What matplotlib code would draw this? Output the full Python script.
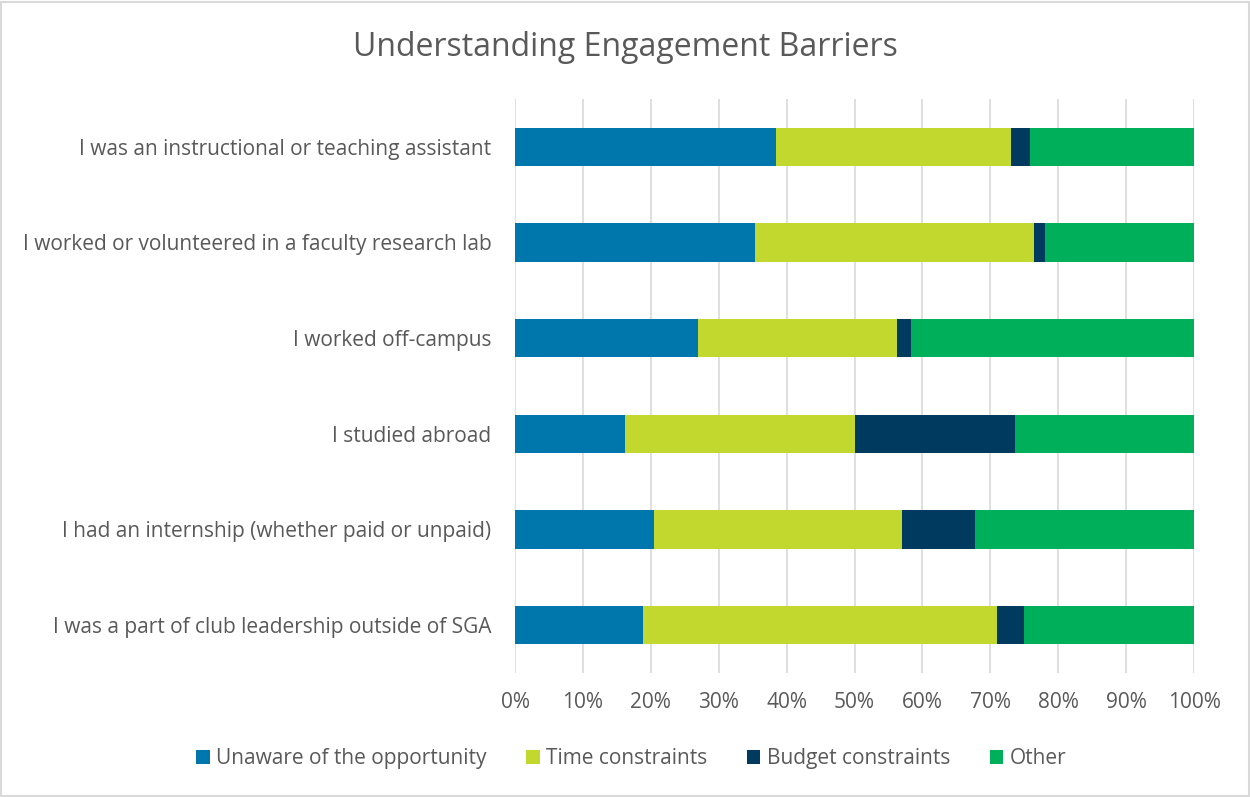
import numpy as np
import matplotlib.pyplot as plt
from matplotlib.patches import Rectangle

categories = [
    'I was an instructional or teaching assistant',
    'I worked or volunteered in a faculty research lab',
    'I worked off-campus',
    'I studied abroad',
    'I had an internship (whether paid or unpaid)',
    'I was a part of club leadership outside of SGA',
]
series_names = ['Unaware of the opportunity', 'Time constraints',
                'Budget constraints', 'Other']
unaware = [38.4, 35.4, 27.0, 16.2, 20.4, 18.9]
time_c = [34.7, 41.0, 29.2, 33.8, 36.6, 52.1]
budget = [2.8, 1.7, 2.1, 23.6, 10.7, 4.0]
other = [24.1, 21.9, 41.7, 26.4, 32.3, 25.0]
colors = ['#0077AC', '#C2D82E', '#003A5F', '#00AF5A']

TEXT = '#595959'
plt.rcParams['font.family'] = ['Open Sans', 'DejaVu Sans']

fig = plt.figure(figsize=(12.5, 7.97), dpi=100)
ax = fig.add_axes([0.412, 0.1556, 0.5432, 0.7202])

y = np.arange(len(categories))
left = np.zeros(len(categories))
for name, vals, c in zip(series_names, [unaware, time_c, budget, other], colors):
    vals = np.asarray(vals)
    ax.barh(y, vals, left=left, height=0.4, color=c, label=name, zorder=3)
    left += vals

ax.set_ylim(len(categories) - 0.5, -0.5)
ax.set_xlim(0, 100)
ax.set_yticks(y)
ax.set_yticklabels(categories, fontsize=15, color=TEXT)
ax.set_xticks(np.arange(0, 101, 10))
ax.set_xticklabels([f'{v}%' for v in range(0, 101, 10)], fontsize=15, color=TEXT)
ax.tick_params(length=0, axis='both')
ax.tick_params(axis='y', pad=17)
ax.tick_params(axis='x', pad=14)
ax.grid(axis='x', color='#D9D9D9', linewidth=1.2, zorder=0)
for s in ax.spines.values():
    s.set_visible(False)

fig.text(0.5, 0.941, 'Understanding Engagement Barriers', ha='center',
         va='center', fontsize=23, color=TEXT)

handles, labels = ax.get_legend_handles_labels()
fig.legend(handles, labels, loc='center', bbox_to_anchor=(0.505, 0.048), ncol=4,
           frameon=False, fontsize=15, labelcolor=TEXT, handlelength=0.65,
           handleheight=0.65, handletextpad=0.3, columnspacing=1.9)

fig.patches.append(Rectangle((0.001, 0.001), 0.998, 0.997, transform=fig.transFigure,
                             fill=False, edgecolor='#D9D9D9', linewidth=1.5))

fig.savefig('out.png', dpi=100)
